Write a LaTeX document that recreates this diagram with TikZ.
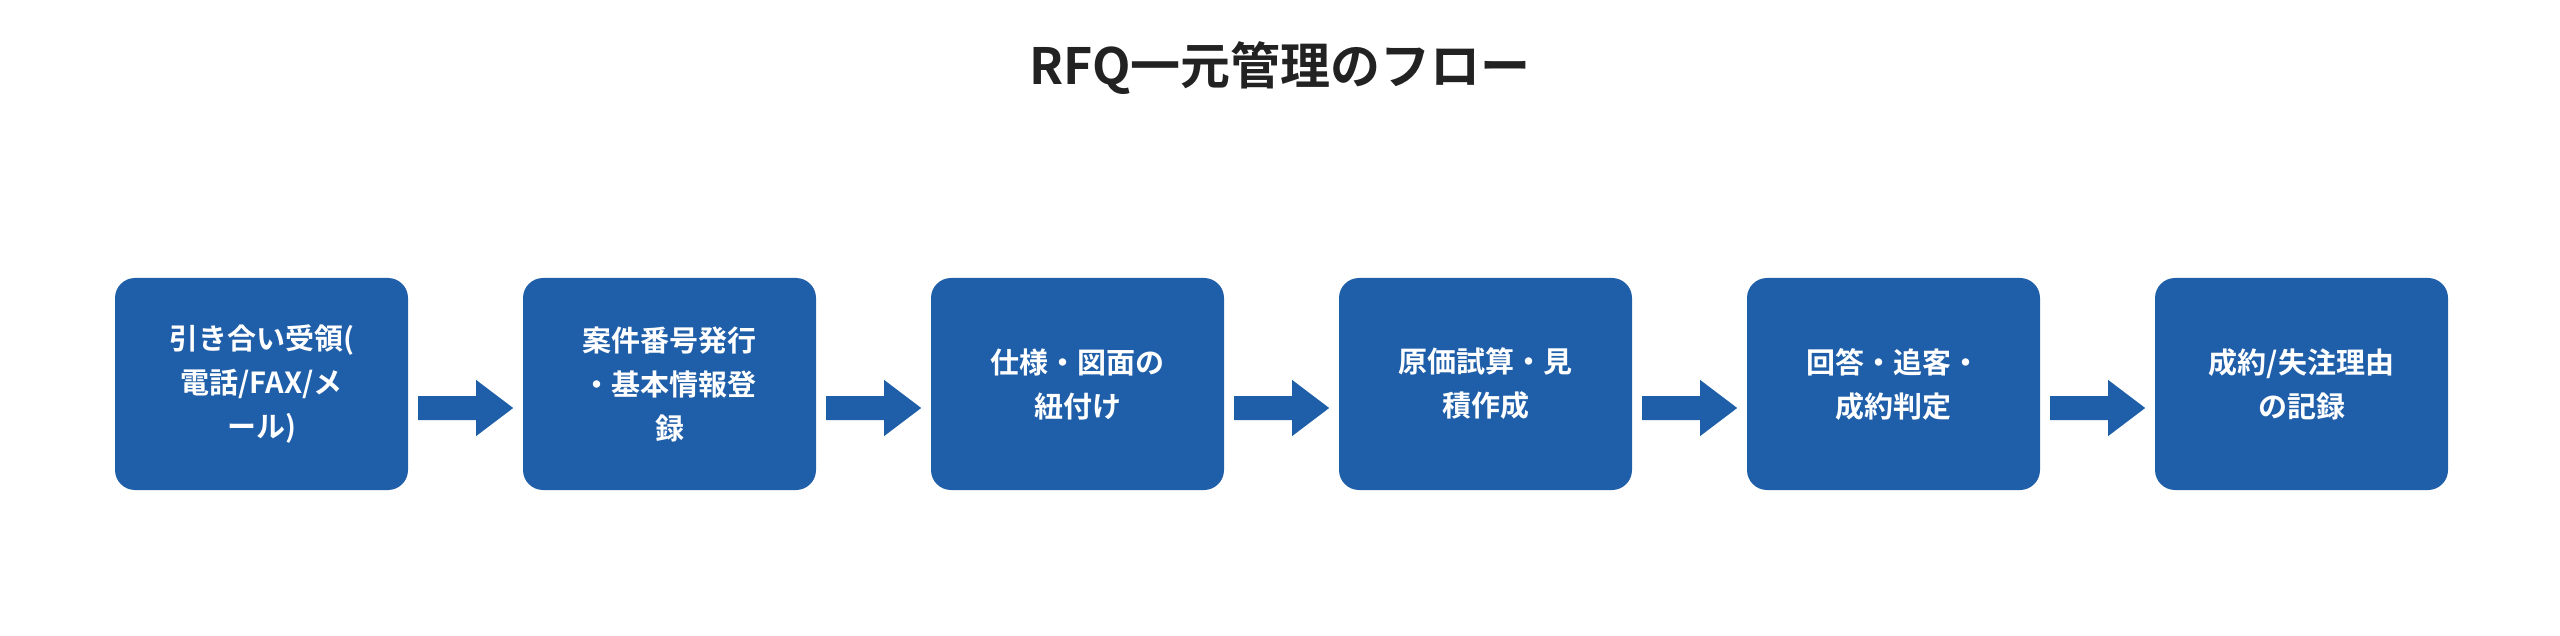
\documentclass[tikz,border=0pt]{standalone}
\usepackage{fontspec}
\newfontfamily\jp{Noto Sans CJK JP Bold}
\definecolor{boxc}{HTML}{1F5EA8}
\definecolor{titc}{HTML}{222222}
\begin{document}
\begin{tikzpicture}[x=1pt,y=-1pt,
  stepbox/.style={fill=boxc,rounded corners=20pt,minimum width=293pt,minimum height=212pt,inner sep=0pt,
    text=white,align=center,font=\jp\fontsize{29}{44}\selectfont,text width=260pt},
  flowarrow/.style={fill=boxc,draw=none}]
\useasboundingbox (0,0) rectangle (2560,636);
\node[font=\jp\fontsize{50}{60}\selectfont,text=titc] (title) at (1280,68) {RFQ一元管理のフロー};
\foreach \i/\t in {0/{引き合い受領(\\電話/FAX/メ\\ール)},1/{案件番号発行\\・基本情報登\\録},2/{仕様・図面の\\紐付け},3/{原価試算・見\\積作成},4/{回答・追客・\\成約判定},5/{成約/失注理由\\の記録}}{
  \node[stepbox] (b\i) at ({261.5+408*\i},384) {\t};
}
\foreach \i in {0,...,4}{
  \fill[flowarrow] ([xshift=10pt,yshift=-12pt]b\i.east) -- ++(58,0) -- ++(0,-16) -- ++(37,28) -- ++(-37,28) -- ++(0,-16) -- ++(-58,0) -- cycle;
}
\end{tikzpicture}
\end{document}
